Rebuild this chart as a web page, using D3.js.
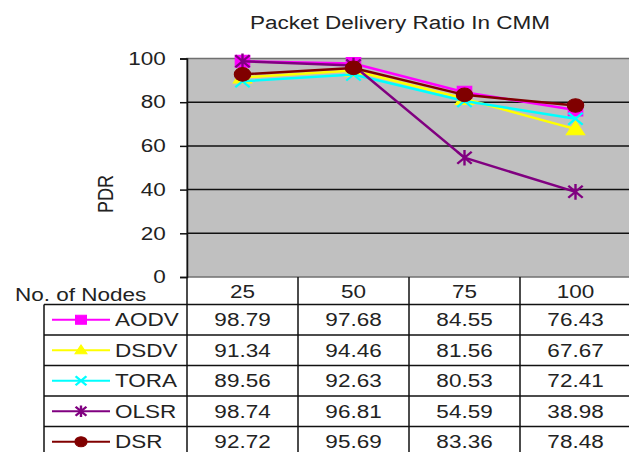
<!DOCTYPE html>
<html>
<head>
<meta charset="utf-8">
<script src="https://cdn.jsdelivr.net/npm/d3@7"></script>
<style>
  body { margin: 0; background: #fff; }
  svg { display: block; font-family: "Liberation Sans", Arial, sans-serif; }
  text { fill: #222; }
</style>
</head>
<body>
<div id="graf"></div>
<script>
// Datos
const nodos = ["25", "50", "75", "100"]
const protocolos = ["AODV", "DSDV", "TORA", "OLSR", "DSR"]
const aodv = [98.79, 97.68, 84.55, 76.43]
const dsdv = [91.34, 94.46, 81.56, 67.67]
const tora = [89.56, 92.63, 80.53, 72.41]
const olsr = [98.74, 96.81, 54.59, 38.98]
const dsr = [92.72, 95.69, 83.36, 78.48]
const yTicks = [0, 20, 40, 60, 80, 100]

const colores = ["#ff00ff", "#ffff00", "#00ffff", "#800080", "#800000"]
const marcas = ["square", "triangle", "cross", "star", "circle"]

const valores = [aodv, dsdv, tora, olsr, dsr]
const series = protocolos.map((p, i) => ({
  nombre: p,
  color: colores[i],
  marca: marcas[i],
  valores: valores[i].map((v, j) => ({ nodo: nodos[j], v })),
}))

// Dimensiones
const anchoTotal = 629
const altoTotal = 452
const sx = 1.25 // la imagen original está estirada en horizontal

const svg = d3
  .select("#graf")
  .append("svg")
  .attr("width", anchoTotal)
  .attr("height", altoTotal)

// Escaladores
const x = d3.scaleBand().domain(nodos).range([187, 631])
const y = d3.scaleLinear().domain([0, 100]).range([277, 58.5])
const fila = d3.scaleBand().domain(protocolos).range([304.5, 304.5 + 5 * 30.5])

const estirar = (sel, px, py) =>
  sel.attr("transform", `translate(${px}, ${py}) scale(${sx}, 1)`)

// Fondo del área de gráfico
svg
  .append("rect")
  .attr("x", x.range()[0])
  .attr("y", y(100))
  .attr("width", x.range()[1] - x.range()[0])
  .attr("height", y(0) - y(100))
  .attr("fill", "#c0c0c0")
  .attr("stroke", "#707070")
  .attr("stroke-width", 1.5)

// Rejilla
svg
  .append("g")
  .selectAll("line")
  .data(yTicks.filter((t) => t > 0 && t < 100))
  .join("line")
  .attr("x1", x.range()[0])
  .attr("x2", x.range()[1])
  .attr("y1", (d) => y(d))
  .attr("y2", (d) => y(d))
  .attr("stroke", "#111")
  .attr("stroke-width", 1.5)

// Eje Y
const yAxis = d3
  .axisLeft(y)
  .tickValues(yTicks)
  .tickSize(7)
  .tickFormat(d3.format("d"))
const yAxisGroup = svg
  .append("g")
  .attr("transform", `translate(${x.range()[0]}, 0)`)
  .call(yAxis)
yAxisGroup.select(".domain").attr("stroke", "#111").attr("stroke-width", 1.5)
yAxisGroup.selectAll(".tick line").attr("stroke", "#111").attr("stroke-width", 1.5)
yAxisGroup
  .selectAll(".tick text")
  .attr("x", -17)
  .attr("transform", `scale(${sx}, 1)`)
  .style("font-size", "18px")
  .style("font-family", "Liberation Sans, Arial, sans-serif")
  .attr("fill", "#222")

// Título
svg
  .append("text")
  .text("Packet Delivery Ratio In CMM")
  .attr("text-anchor", "middle")
  .style("font-size", "18px")
  .call(estirar, 400, 29)

// Etiqueta eje Y
svg
  .append("text")
  .text("PDR")
  .attr("text-anchor", "middle")
  .attr("dy", "0.35em")
  .style("font-size", "18px")
  .attr("transform", `translate(105, 194) scale(${sx}, 1) rotate(-90)`)

// Líneas
const linea = d3
  .line()
  .x((d) => x(d.nodo) + x.bandwidth() / 2)
  .y((d) => y(d.v))

const marcaPath = (tipo, s) => {
  if (tipo === "square") return `M${-s},${-s}H${s}V${s}H${-s}Z`
  if (tipo === "triangle") return `M0,${-s * 1.15}L${s * 1.1},${s * 0.8}L${-s * 1.1},${s * 0.8}Z`
  if (tipo === "circle") return d3.symbol(d3.symbolCircle, Math.PI * s * s)()
  if (tipo === "cross") return `M${-s},${-s}L${s},${s}M${-s},${s}L${s},${-s}`
  return `M${-s},${-s}L${s},${s}M${-s},${s}L${s},${-s}M0,${-s * 1.3}V${s * 1.3}`
}

const dibujarMarca = (g, d, px, py, s) => {
  const abierta = d.marca === "cross" || d.marca === "star"
  g.append("path")
    .attr("d", marcaPath(d.marca, s))
    .attr("transform", `translate(${px}, ${py}) scale(1.2, 1)`)
    .attr("fill", abierta ? "none" : d.color)
    .attr("stroke", d.color)
    .attr("stroke-width", abierta ? 2 : 1)
}

const capaSeries = svg.append("g")
series.forEach((s) => {
  const g = capaSeries.append("g")
  g.append("path")
    .attr("d", linea(s.valores))
    .attr("fill", "none")
    .attr("stroke", s.color)
    .attr("stroke-width", 2.5)
  s.valores.forEach((d) => {
    const tam = s.marca === "circle" ? 6.8 : s.marca === "triangle" ? 7 : 6
    dibujarMarca(g, s, x(d.nodo) + x.bandwidth() / 2, y(d.v), tam)
  })
})

// Tabla de datos
const tabla = svg.append("g")
const bordeIzq = 44
const yFin = fila.range()[1] + 10

// Líneas verticales
tabla
  .selectAll("line.col")
  .data(nodos.slice(1))
  .join("line")
  .attr("class", "col")
  .attr("x1", (d) => x(d))
  .attr("x2", (d) => x(d))
  .attr("y1", y(0))
  .attr("y2", yFin)
tabla
  .append("line")
  .attr("x1", x.range()[0])
  .attr("x2", x.range()[0])
  .attr("y1", y(0))
  .attr("y2", yFin)
tabla
  .append("line")
  .attr("x1", bordeIzq)
  .attr("x2", bordeIzq)
  .attr("y1", fila.range()[0])
  .attr("y2", yFin)

// Líneas horizontales
tabla
  .selectAll("line.fila")
  .data(protocolos)
  .join("line")
  .attr("class", "fila")
  .attr("x1", bordeIzq)
  .attr("x2", x.range()[1])
  .attr("y1", (d) => fila(d))
  .attr("y2", (d) => fila(d))
tabla.selectAll("line").attr("stroke", "#111").attr("stroke-width", 1.5)

// Cabecera
tabla
  .append("text")
  .text("No. of Nodes")
  .style("font-size", "18px")
  .call(estirar, 15, 301)
tabla
  .selectAll("text.cab")
  .data(nodos)
  .join("text")
  .attr("class", "cab")
  .text((d) => d)
  .attr("text-anchor", "middle")
  .style("font-size", "18px")
  .each(function (d) {
    d3.select(this).call(estirar, x(d) + x.bandwidth() / 2, 297.5)
  })

// Filas
series.forEach((s) => {
  const cy = fila(s.nombre) + fila.bandwidth() / 2
  const g = tabla.append("g")
  g.append("line")
    .attr("x1", 52)
    .attr("x2", 110)
    .attr("y1", cy)
    .attr("y2", cy)
    .attr("stroke", s.color)
    .attr("stroke-width", 2)
  dibujarMarca(g, s, 81, cy, s.marca === "circle" ? 5 : 4.5)
  g.append("text")
    .text(s.nombre)
    .attr("dy", "0.35em")
    .style("font-size", "18px")
    .call(estirar, 115, cy)
  g.selectAll("text.val")
    .data(s.valores)
    .join("text")
    .attr("class", "val")
    .text((d) => d3.format(".2f")(d.v))
    .attr("text-anchor", "middle")
    .attr("dy", "0.35em")
    .style("font-size", "18px")
    .each(function (d) {
      d3.select(this).call(estirar, x(d.nodo) + x.bandwidth() / 2, cy)
    })
})
</script>
</body>
</html>
